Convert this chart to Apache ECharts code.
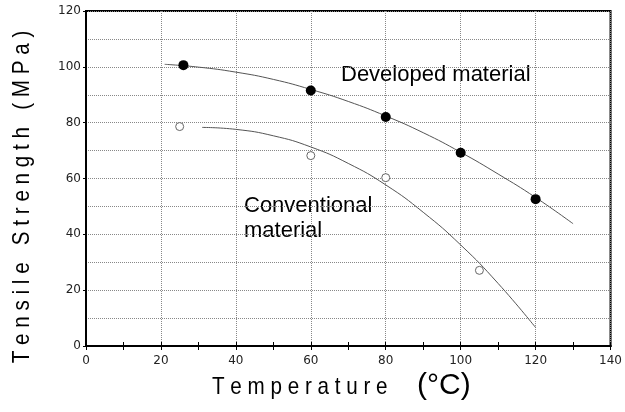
<!DOCTYPE html>
<html>
<head>
<meta charset="utf-8">
<script src="https://cdn.jsdelivr.net/npm/echarts@6/dist/echarts.min.js"></script>
<style>
  html, body { margin: 0; padding: 0; background: #fff; }
  #chart { width: 625px; height: 412px; }
</style>
</head>
<body>
<div id="chart"></div>
<script>
// measured points
const devTemp = [26, 60, 80, 100, 120]
const devStrength = [100.6, 91.5, 82.0, 69.2, 52.6]
const convTemp = [25, 60, 80, 105]
const convStrength = [78.6, 68.2, 60.3, 27.1]

// fitted curves
const devCurveTemp = [21, 30, 40, 50, 60, 70, 80, 90, 100, 110, 120, 130]
const devCurveStrength = [100.9, 99.9, 98.1, 95.5, 91.9, 87.6, 82.4, 76.4, 69.4, 61.6, 53.2, 43.8]
const convCurveTemp = [31, 40, 50, 60, 70, 80, 90, 100, 110, 120]
const convCurveStrength = [78.3, 77.6, 75.3, 71.3, 65.4, 57.7, 47.9, 36.2, 22.4, 6.6]

const xTicks = [0, 20, 40, 60, 80, 100, 120, 140]
const yTicks = [0, 20, 40, 60, 80, 100, 120]

const pairs = (xs, ys) => xs.map((x, i) => [x, ys[i]])

const chart = echarts.init(document.getElementById('chart'), null, { renderer: 'canvas' })

const labelStyle = {
  color: '#222',
  fontFamily: 'DejaVu Sans',
  fontSize: 12
}

const option = {
  animation: false,
  backgroundColor: '#fff',
  grid: {
    left: 86,
    right: 10,
    top: 11,
    bottom: 66,
    show: true,
    borderColor: '#000',
    borderWidth: 2
  },
  xAxis: [
    {
      type: 'value',
      min: xTicks[0],
      max: xTicks[xTicks.length - 1],
      interval: 20,
      axisLine: { show: true, lineStyle: { color: '#000', width: 2 } },
      axisTick: { show: true, inside: true, length: 4, lineStyle: { color: '#000' } },
      minorTick: { show: true, splitNumber: 2, length: 4, lineStyle: { color: '#000' } },
      axisLabel: { ...labelStyle, margin: 9 },
      splitLine: { show: true, lineStyle: { color: '#888', type: 'dotted', width: 1 } }
    },
    {
      type: 'value',
      position: 'top',
      min: xTicks[0],
      max: xTicks[xTicks.length - 1],
      interval: 20,
      axisLine: { show: true, lineStyle: { color: '#000', width: 2 } },
      axisTick: { show: true, inside: true, length: 4, lineStyle: { color: '#000' } },
      minorTick: { show: true, splitNumber: 2, length: 4, lineStyle: { color: '#000' } },
      axisLabel: { show: false },
      splitLine: { show: false }
    }
  ],
  yAxis: [
    {
      type: 'value',
      min: yTicks[0],
      max: yTicks[yTicks.length - 1],
      interval: 20,
      axisLine: { show: true, lineStyle: { color: '#000', width: 2 } },
      axisTick: { show: false },
      axisLabel: { ...labelStyle, margin: 5 },
      splitLine: { show: true, lineStyle: { color: '#888', type: 'dotted', width: 1 } },
      minorTick: { show: false, splitNumber: 2 },
      minorSplitLine: { show: true, lineStyle: { color: '#888', type: 'dotted', width: 1 } }
    },
    {
      type: 'value',
      position: 'right',
      min: yTicks[0],
      max: yTicks[yTicks.length - 1],
      interval: 20,
      axisLine: { show: true, lineStyle: { color: '#000', width: 2 } },
      axisTick: { show: true, inside: true, length: 3, lineStyle: { color: '#000' } },
      axisLabel: { show: false },
      splitLine: { show: false }
    }
  ],
  series: [
    {
      name: 'Developed fit',
      type: 'line',
      smooth: true,
      showSymbol: false,
      data: pairs(devCurveTemp, devCurveStrength),
      lineStyle: { color: '#555', width: 1 },
      z: 2
    },
    {
      name: 'Conventional fit',
      type: 'line',
      smooth: true,
      showSymbol: false,
      data: pairs(convCurveTemp, convCurveStrength),
      lineStyle: { color: '#555', width: 1 },
      z: 2
    },
    {
      name: 'Developed material',
      type: 'scatter',
      symbol: 'circle',
      symbolSize: 10,
      data: pairs(devTemp, devStrength),
      itemStyle: { color: '#000', opacity: 1 },
      z: 3
    },
    {
      name: 'Conventional material',
      type: 'scatter',
      symbol: 'circle',
      symbolSize: 8,
      data: pairs(convTemp, convStrength),
      itemStyle: { color: '#fff', borderColor: '#666', borderWidth: 1, opacity: 1 },
      z: 3
    }
  ],
  graphic: [
    {
      type: 'text',
      x: 341,
      y: 75,
      style: {
        text: 'Developed material',
        font: '22px "Liberation Sans", Arial, sans-serif',
        fill: '#000',
        align: 'left',
        verticalAlign: 'middle'
      }
    },
    {
      type: 'text',
      x: 244,
      y: 218,
      style: {
        text: 'Conventional\nmaterial',
        font: '22px "Liberation Sans", Arial, sans-serif',
        lineHeight: 25,
        fill: '#000',
        align: 'left',
        verticalAlign: 'middle'
      }
    },
    {
      type: 'text',
      x: 212,
      y: 387,
      scaleX: 0.86,
      style: {
        text: 'T e m p e r a t u r e',
        font: '24px "Liberation Sans", Arial, sans-serif',
        fill: '#000',
        align: 'left',
        verticalAlign: 'middle'
      }
    },
    {
      type: 'text',
      x: 417,
      y: 386,
      style: {
        text: '(°C)',
        font: '30px "Liberation Sans", Arial, sans-serif',
        fill: '#000',
        align: 'left',
        verticalAlign: 'middle'
      }
    },
    {
      type: 'text',
      x: 22,
      y: 197,
      rotation: Math.PI / 2,
      scaleX: 0.86,
      style: {
        text: 'T e n s i l e   S t r e n g t h   ( M P a )',
        font: '24px "Liberation Sans", Arial, sans-serif',
        fill: '#000',
        align: 'center',
        verticalAlign: 'middle'
      }
    }
  ]
}

chart.setOption(option)

window.addEventListener('resize', () => {
  chart.resize()
})
</script>
</body>
</html>
